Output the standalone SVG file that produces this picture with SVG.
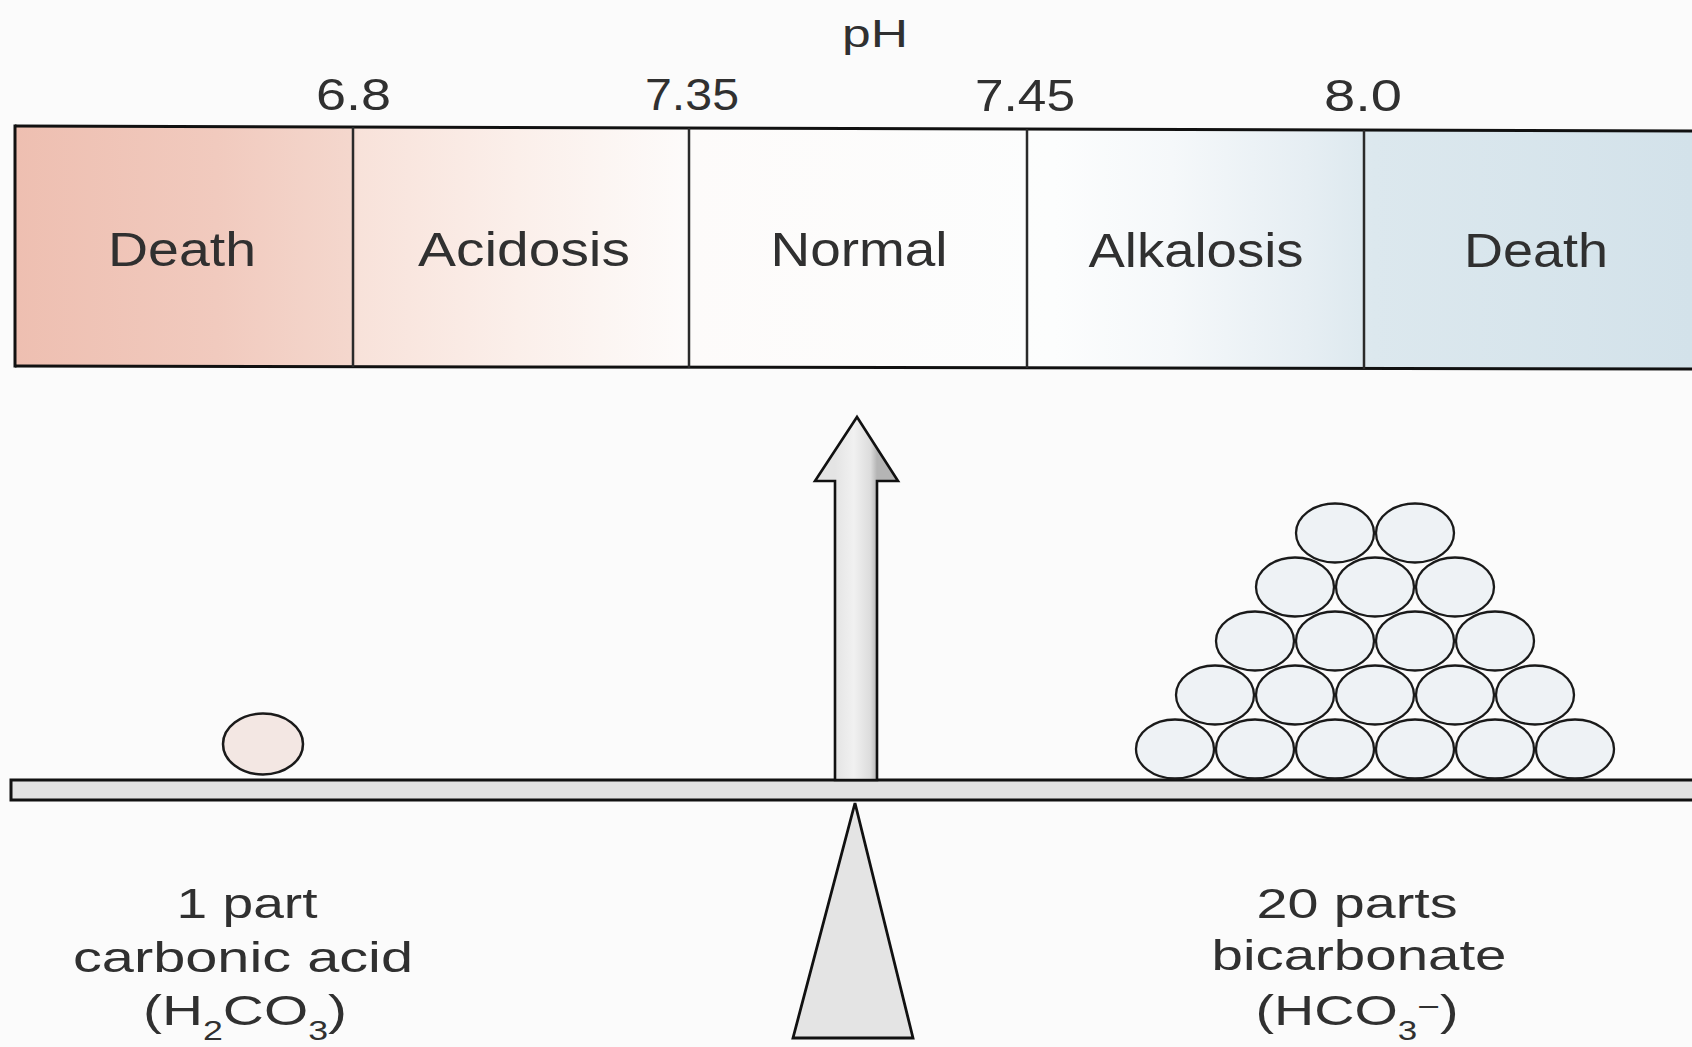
<svg xmlns="http://www.w3.org/2000/svg" width="1692" height="1047" viewBox="0 0 1692 1047">
<defs>
<style>
.t{font-family:"Liberation Sans",Arial,sans-serif;fill:#303030;text-anchor:middle}
.num{font-size:45px}
.reg{font-size:49px}
.lab{font-size:43px}
.ln{stroke:#111;stroke-width:3;fill:none}
.div{stroke:#2a2a2a;stroke-width:2.5}
.ball{fill:#eef2f5;stroke:#1a1a1a;stroke-width:2.3}
</style>
<linearGradient id="barGrad" gradientUnits="userSpaceOnUse" x1="15" y1="0" x2="1692" y2="0">
<stop offset="0" stop-color="#eebfb1"/>
<stop offset="0.12" stop-color="#f1cabe"/>
<stop offset="0.2" stop-color="#f4d7cd"/>
<stop offset="0.205" stop-color="#f8e2da"/>
<stop offset="0.3" stop-color="#fbefea"/>
<stop offset="0.4" stop-color="#fdfbfa"/>
<stop offset="0.62" stop-color="#fcfdfd"/>
<stop offset="0.69" stop-color="#f5f8fa"/>
<stop offset="0.77" stop-color="#e6eef3"/>
<stop offset="0.81" stop-color="#dce8ee"/>
<stop offset="1" stop-color="#d3e2ea"/>
</linearGradient>
<linearGradient id="shaftGrad" gradientUnits="userSpaceOnUse" x1="835" y1="0" x2="877" y2="0">
<stop offset="0" stop-color="#e4e4e4"/>
<stop offset="0.45" stop-color="#f1f1f1"/>
<stop offset="0.85" stop-color="#dcdcdc"/>
<stop offset="1" stop-color="#b5b5b5"/>
</linearGradient>
</defs>
<rect x="0" y="0" width="1692" height="1047" fill="#fbfbfb"/>

<g id="ph-scale">
<polygon points="15,126 1692,131 1692,369 15,366" fill="url(#barGrad)"/>
<line class="ln" x1="15" y1="126" x2="1692" y2="131"/>
<line class="ln" x1="15" y1="366" x2="1692" y2="369"/>
<line class="ln" x1="15" y1="124.5" x2="15" y2="367.5"/>
<line class="div" x1="353" y1="127" x2="353" y2="367"/>
<line class="div" x1="689" y1="128" x2="689" y2="368"/>
<line class="div" x1="1027" y1="129" x2="1027" y2="368"/>
<line class="div" x1="1364" y1="130" x2="1364" y2="369"/>
<text class="t" x="875" y="47" font-size="38" textLength="66" lengthAdjust="spacingAndGlyphs">pH</text>
<text class="t num" x="353.5" y="110" textLength="75" lengthAdjust="spacingAndGlyphs">6.8</text>
<text class="t num" x="692" y="110" textLength="94" lengthAdjust="spacingAndGlyphs">7.35</text>
<text class="t num" x="1025" y="111" textLength="100" lengthAdjust="spacingAndGlyphs">7.45</text>
<text class="t num" x="1363" y="111" textLength="78" lengthAdjust="spacingAndGlyphs">8.0</text>
<g id="cell-death-acid"><text class="t reg" x="182" y="266" textLength="148" lengthAdjust="spacingAndGlyphs">Death</text></g>
<g id="cell-acidosis"><text class="t reg" x="524" y="266" textLength="212" lengthAdjust="spacingAndGlyphs">Acidosis</text></g>
<g id="cell-normal"><text class="t reg" x="859" y="266" textLength="177" lengthAdjust="spacingAndGlyphs">Normal</text></g>
<g id="cell-alkalosis"><text class="t reg" x="1196" y="267" textLength="215" lengthAdjust="spacingAndGlyphs">Alkalosis</text></g>
<g id="cell-death-alk"><text class="t reg" x="1536" y="267" textLength="144" lengthAdjust="spacingAndGlyphs">Death</text></g>
</g>

<g id="beam">
<rect x="11" y="780" width="1690" height="20" fill="#e2e2e2" stroke="#111" stroke-width="3"/>
</g>

<g id="fulcrum">
<polygon points="855,803 913,1038 793,1038" fill="#e4e4e4" stroke="#111" stroke-width="2.8" stroke-linejoin="miter"/>
</g>

<g id="acid-side">
<ellipse cx="263" cy="744" rx="40" ry="30.5" fill="#f3e7e3" stroke="#1a1a1a" stroke-width="2.5"/>
<text class="t lab" x="247" y="918" textLength="141" lengthAdjust="spacingAndGlyphs">1 part</text>
<text class="t lab" x="243" y="972" textLength="340" lengthAdjust="spacingAndGlyphs">carbonic acid</text>
<text class="t lab" x="245" y="1025" textLength="204" lengthAdjust="spacingAndGlyphs">(H<tspan dy="15" font-size="27">2</tspan><tspan dy="-15">CO</tspan><tspan dy="15" font-size="27">3</tspan><tspan dy="-15">)</tspan></text>
</g>

<g id="base-side">
<g id="pyramid">
<ellipse class="ball" cx="1175" cy="749" rx="39" ry="29.5"/>
<ellipse class="ball" cx="1255" cy="749" rx="39" ry="29.5"/>
<ellipse class="ball" cx="1335" cy="749" rx="39" ry="29.5"/>
<ellipse class="ball" cx="1415" cy="749" rx="39" ry="29.5"/>
<ellipse class="ball" cx="1495" cy="749" rx="39" ry="29.5"/>
<ellipse class="ball" cx="1575" cy="749" rx="39" ry="29.5"/>
<ellipse class="ball" cx="1215" cy="695" rx="39" ry="29.5"/>
<ellipse class="ball" cx="1295" cy="695" rx="39" ry="29.5"/>
<ellipse class="ball" cx="1375" cy="695" rx="39" ry="29.5"/>
<ellipse class="ball" cx="1455" cy="695" rx="39" ry="29.5"/>
<ellipse class="ball" cx="1535" cy="695" rx="39" ry="29.5"/>
<ellipse class="ball" cx="1255" cy="641" rx="39" ry="29.5"/>
<ellipse class="ball" cx="1335" cy="641" rx="39" ry="29.5"/>
<ellipse class="ball" cx="1415" cy="641" rx="39" ry="29.5"/>
<ellipse class="ball" cx="1495" cy="641" rx="39" ry="29.5"/>
<ellipse class="ball" cx="1295" cy="587" rx="39" ry="29.5"/>
<ellipse class="ball" cx="1375" cy="587" rx="39" ry="29.5"/>
<ellipse class="ball" cx="1455" cy="587" rx="39" ry="29.5"/>
<ellipse class="ball" cx="1335" cy="533" rx="39" ry="29.5"/>
<ellipse class="ball" cx="1415" cy="533" rx="39" ry="29.5"/>
</g>
<text class="t lab" x="1357" y="918" textLength="201" lengthAdjust="spacingAndGlyphs">20 parts</text>
<text class="t lab" x="1359" y="970" textLength="295" lengthAdjust="spacingAndGlyphs">bicarbonate</text>
<text class="t lab" x="1357" y="1025" textLength="203" lengthAdjust="spacingAndGlyphs">(HCO<tspan dy="15" font-size="27">3</tspan><tspan dy="-23" font-size="30">−</tspan><tspan dy="8">)</tspan></text>
</g>

<g id="connectors">
<polygon points="857,417 898,481 877,481 877,780 835,780 835,481 815,481" fill="url(#shaftGrad)" stroke="#111" stroke-width="2.6" stroke-linejoin="miter"/>
</g>
</svg>
